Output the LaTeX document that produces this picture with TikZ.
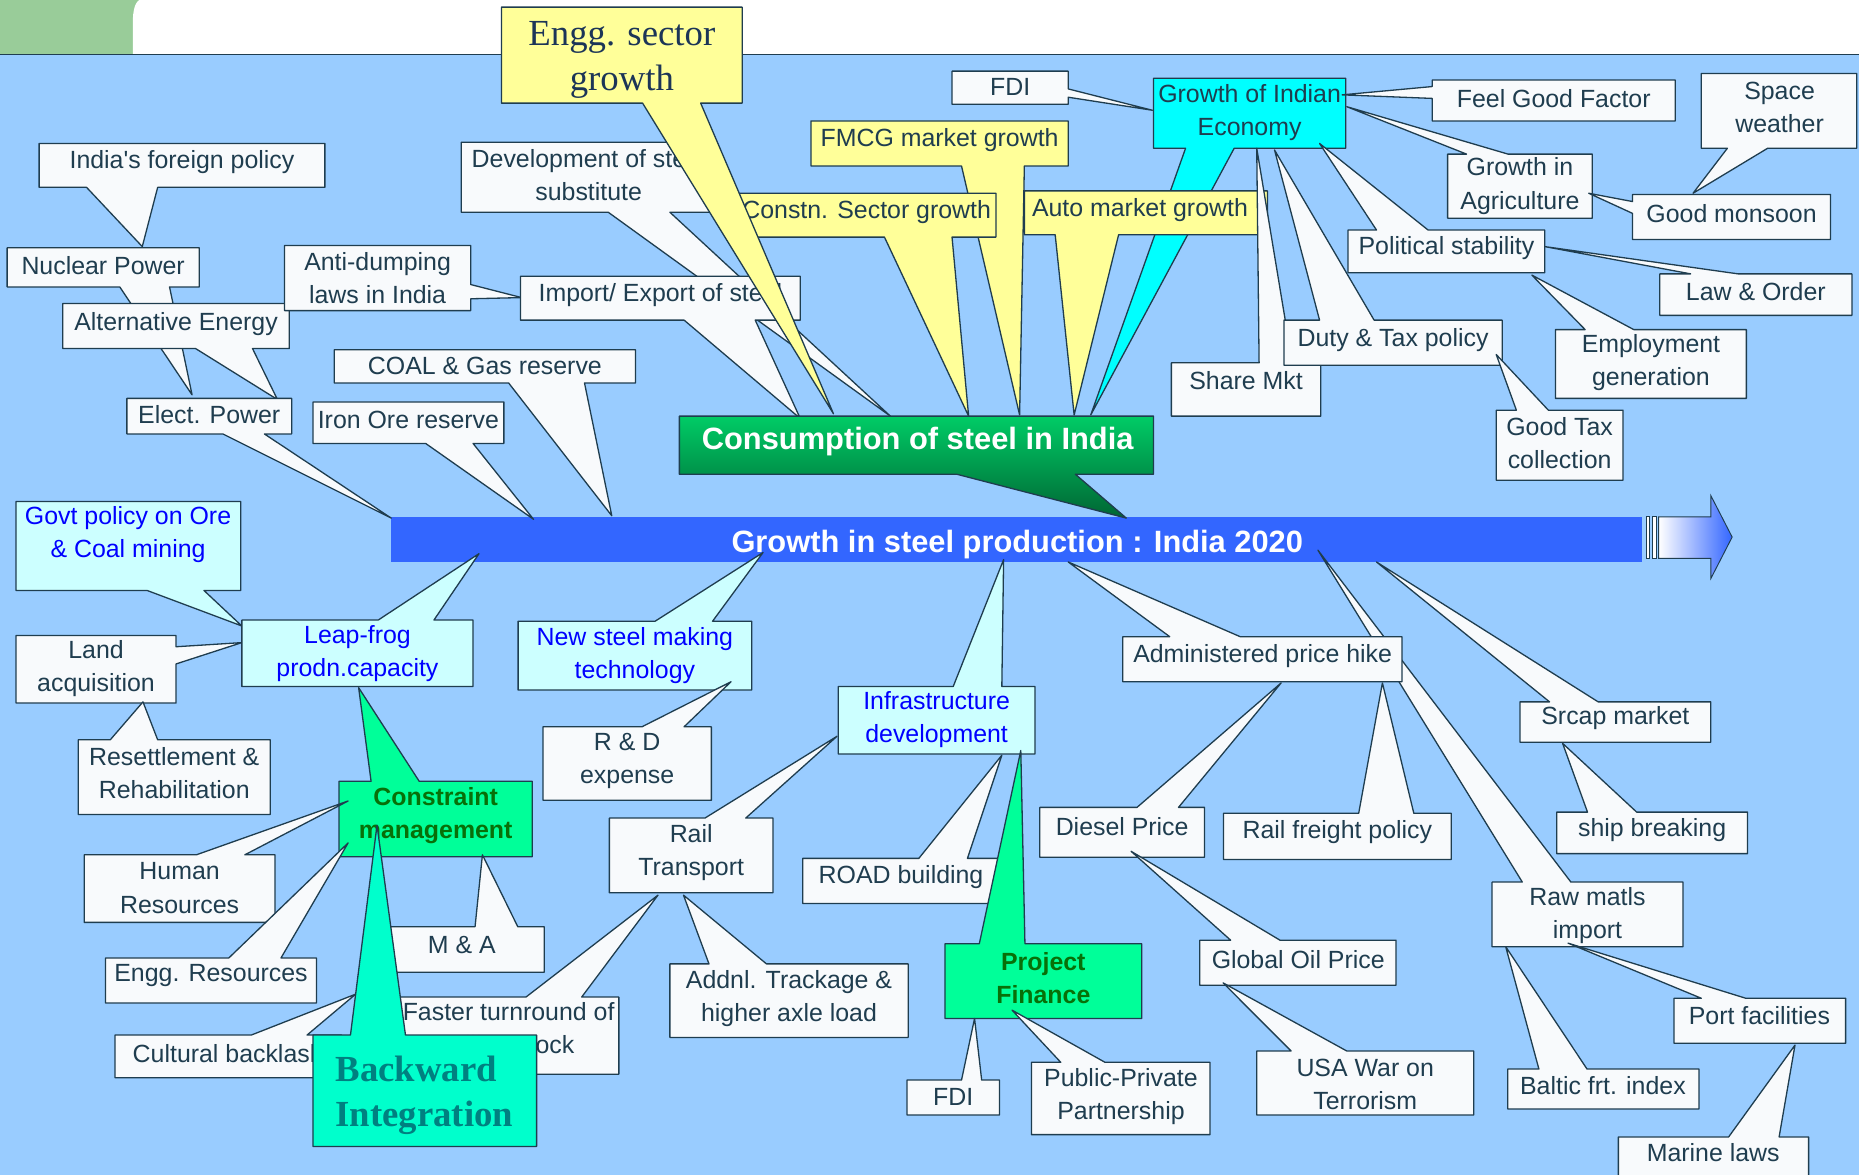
\documentclass[tikz,border=0pt]{standalone}
\usepackage{fontspec}
\setmainfont{Liberation Sans}
\newfontfamily\timesf{Liberation Serif}
\definecolor{bg}{HTML}{99CCFF}
\definecolor{barc}{HTML}{3366FF}
\definecolor{edge}{HTML}{1F3D4F}
\definecolor{txt}{HTML}{1F3D4F}
\definecolor{wbox}{HTML}{F8FAFC}
\definecolor{ybox}{HTML}{FFFF99}
\definecolor{cbox}{HTML}{00FFFF}
\definecolor{lcbox}{HTML}{CCFFFF}
\definecolor{gbox}{HTML}{00FF99}
\definecolor{abox}{HTML}{00FFCC}
\definecolor{bluetxt}{HTML}{0000FF}
\definecolor{greentxt}{HTML}{087008}
\definecolor{tealtxt}{HTML}{008080}
\definecolor{navytxt}{HTML}{1C3557}
\definecolor{tabc}{HTML}{99CC99}
\definecolor{consT}{HTML}{00CC66}
\definecolor{consB}{HTML}{006633}
% callout macros: style, x1, y1, x2, y2, base1, base2, tip
\newcommand\CoBot[8]{\draw[#1] (#2,#3) -- (#4,#3) -- (#4,#5) -- (#7,#5) -- (#8) -- (#6,#5) -- (#2,#5) -- cycle;}
\newcommand\CoTop[8]{\draw[#1] (#2,#3) -- (#6,#3) -- (#8) -- (#7,#3) -- (#4,#3) -- (#4,#5) -- (#2,#5) -- cycle;}
\newcommand\CoRt[8]{\draw[#1] (#2,#3) -- (#4,#3) -- (#4,#6) -- (#8) -- (#4,#7) -- (#4,#5) -- (#2,#5) -- cycle;}
\newcommand\CoLf[8]{\draw[#1] (#2,#3) -- (#4,#3) -- (#4,#5) -- (#2,#5) -- (#2,#7) -- (#8) -- (#2,#6) -- cycle;}
\tikzset{
 base/.style={draw=edge, line width=1.1pt, line join=round},
 wb/.style={base, fill=wbox},
 yb/.style={base, fill=ybox},
 cyb/.style={base, fill=cbox},
 lcb/.style={base, fill=lcbox},
 gb/.style={base, fill=gbox},
 ab/.style={base, fill=abox},
 lab/.style={text=txt, font=\fontsize{21}{28}\selectfont, align=center, inner sep=0pt},
 blab/.style={lab, text=bluetxt},
 glab/.style={lab, text=greentxt, font=\fontsize{21}{28}\selectfont\bfseries},
 wlab/.style={inner sep=0pt, text=white, font=\fontsize{26}{30}\selectfont\bfseries},
 englab/.style={inner sep=0pt, align=center, text=navytxt, font=\fontsize{31}{38}\selectfont\timesf},
 bilab/.style={inner sep=0pt, align=left, text=tealtxt, font=\fontsize{31}{38}\selectfont\timesf\bfseries},
}
\begin{document}
\begin{tikzpicture}[x=1pt,y=-1pt]
\useasboundingbox (0,0) rectangle (1568,991);
% background
\fill[white] (0,0) rectangle (1568,991);
\fill[tabc] (0,0) rectangle (130,46);
\fill[white] (112,46) -- (112,20) .. controls (112,8) and (114,0) .. (120,-1) -- (1568,-1) -- (1568,46) -- cycle;
\fill[bg] (0,46) rectangle (1568,991);
\draw[edge, line width=1.5pt] (0,46) -- (1568,46);
% main bar
\fill[barc] (330,436) rectangle (1385,474);
\node[wlab] (bar) at (858,459) {Growth in steel production : India 2020};
\draw[edge, line width=0.8pt, fill=white] (1388.4,436) rectangle (1391.4,471);
\draw[edge, line width=0.8pt, fill=white] (1393.5,436) rectangle (1397,471);
\draw[edge, line width=0.8pt, left color=white, right color=barc] (1399,436) -- (1443,436) -- (1443,418) -- (1461,453) -- (1443,488) -- (1443,471) -- (1399,471) -- cycle;
% top-left group
\CoBot{wb}{33}{121}{274}{158}{73}{133}{120,208}
\node[lab] (ifp) at (153.5,137) {India\textquotesingle s foreign policy};
\CoBot{wb}{6}{209}{168}{242}{101}{143}{162,333}
\node[lab] (nuc) at (87,224) {Nuclear Power};
\CoBot{wb}{53}{256}{244}{294}{165}{213}{234,337}
\node[lab] (alt) at (148.5,273) {Alternative Energy};
\CoBot{wb}{107}{336}{246}{366}{188}{223}{330,437}
\node[lab] (elp) at (176.5,350) {Elect. Power};
\CoRt{wb}{240}{207}{397}{262}{240}{252}{440,251}
\node[lab] (adl) at (318.5,234.5) {Anti-dumping\\laws in India};
\CoBot{wb}{389}{120}{604}{179}{513}{565}{751,351}
\node[lab] (dev) at (496.5,148) {Development of steel\\substitute};
\CoBot{wb}{439}{233}{675}{270}{577}{637}{675,353}
\node[lab] (imp) at (557,249) {Import/ Export of steel};
\CoBot{wb}{282}{295}{536}{323}{429}{493}{516,435}
\node[lab] (coal) at (409,309) {COAL \& Gas reserve};
\CoBot{wb}{264}{339}{425}{374}{359}{399}{450,438}
\node[lab] (iron) at (344.5,354) {Iron Ore reserve};
% yellow group
\CoBot{yb}{684}{102}{901}{140}{811}{864}{860,350}
\node[lab] (fmcg) at (792.5,118) {FMCG market growth};
\CoBot{yb}{622}{163}{840}{200}{746}{803}{817,351}
\node[lab] (cons) at (731,179) {Constn. Sector growth};
\CoBot{cyb}{973}{66}{1135}{125}{1000}{1041}{920,350}
\node[lab] (gie) at (1054,95) {Growth of Indian\\Economy};
\CoBot{yb}{864}{161}{1069}{198}{890}{943.5}{906,350}
\node[lab] (auto) at (961.5,177) {Auto market growth};
\CoBot{yb}{423}{6}{626}{87}{542}{591}{703,349}
\node[englab] (engg) at (524.5,50.5) {Engg. sector\\growth};
% consumption
\draw[base, top color=consT, bottom color=consB] (573,351) -- (973,351) -- (973,400) -- (907,400) -- (950,437) -- (807,400) -- (573,400) -- cycle;
\node[wlab] (consum) at (774,372) {Consumption of steel in India};
% economy satellites
\CoRt{wb}{803}{60}{901}{88}{75}{82}{972,93}
\node[lab] (fdia) at (852,73) {FDI};
\CoLf{wb}{1208}{67.5}{1413}{102}{73}{83}{1132,80}
\node[lab] (fgf) at (1310.5,83) {Feel Good Factor};
\CoTop{wb}{1221}{130}{1343}{184}{1237}{1272}{1136,90}
\node[lab] (agr) at (1282,157) {Growth in\\Agriculture};
\CoBot{wb}{1435}{62}{1566}{125}{1457}{1491}{1428,163}
\node[lab] (spw) at (1501,90.5) {Space\\weather};
\CoLf{wb}{1377}{164}{1544}{202}{170}{180}{1340,163}
\node[lab] (gm) at (1460.5,180) {Good monsoon};
\CoTop{wb}{988}{306}{1114}{351}{1062}{1090}{1060,125}
\node[lab] (share) at (1051,321) {Share Mkt};
\CoTop{wb}{1083}{270}{1267}{308}{1113}{1159}{1075,126.5}
\node[lab] (duty) at (1175,287) {Duty \& Tax policy};
\CoTop{wb}{1137}{194}{1303}{230}{1161}{1204.5}{1113,121}
\node[lab] (pol) at (1220,209) {Political stability};
\CoTop{wb}{1400}{231}{1562}{266}{1426}{1466}{1303,208}
\node[lab] (lo) at (1481,246) {Law \& Order};
\CoTop{wb}{1312}{278}{1473}{336}{1337}{1378}{1292,232}
\node[lab] (emp) at (1392.5,306) {Employment\\generation};
\CoTop{wb}{1262}{346}{1369}{405}{1279}{1306}{1262,299}
\node[lab] (gtc) at (1315.5,374) {Good Tax\\collection};
% lower-left group
\CoBot{lcb}{13.5}{423}{203}{498}{124}{172}{204,528}
\node[blab] (govt) at (108,451) {Govt policy on Ore\\\& Coal mining};
\CoRt{wb}{13.5}{536}{148.5}{593}{545.5}{560}{204,542}
\node[lab] (land) at (81,564) {Land\\acquisition};
\CoTop{wb}{66}{624}{228}{687}{93}{133}{120.6,592}
\node[lab] (res) at (147,652) {Resettlement \&\\Rehabilitation};
\CoTop{lcb}{204}{523}{399}{579}{319}{366}{404,467}
\node[blab] (leap) at (301.5,551) {Leap-frog\\prodn.capacity};
\CoTop{gb}{286}{659}{449}{722.6}{313}{353.6}{302.5,580}
\node[glab] (cm) at (367.5,688) {Constraint\\management};
\CoTop{wb}{71}{721}{232}{778}{165.6}{206.5}{293.6,675.6}
\node[lab] (hr) at (151.5,749) {Human\\Resources};
\CoTop{wb}{89}{808}{267}{846}{193}{237}{293.6,711}
\node[lab] (er) at (178,823) {Engg. Resources};
\CoTop{wb}{320}{781.6}{459}{820}{400.7}{436.7}{406.9,721}
\node[lab] (ma) at (389.5,797) {M \& A};
\CoTop{wb}{97}{873}{288}{909}{212}{259}{300,838.5}
\node[lab] (cbl) at (192.5,889) {Cultural backlash};
\CoTop{wb}{336}{841}{522}{906}{443.6}{490.6}{555,755}
\node[lab] (ft) at (429,869) {Faster turnround of\\rolling stock};
\CoTop{ab}{264}{873}{452.6}{967}{295.6}{342}{318,696}
\node[bilab] (bi) at (358,924) {Backward\\Integration};
% middle group
\CoTop{lcb}{437}{524}{634}{582}{552.5}{601}{643.6,466}
\node[blab] (nst) at (535.5,553) {New steel making\\technology};
\CoTop{wb}{458}{613}{600}{675}{541.5}{577}{616.6,575}
\node[lab] (rd) at (529,642) {R \& D\\expense};
\CoTop{lcb}{707}{579}{873}{636}{804}{845}{846.5,472}
\node[blab] (inf) at (790,607) {Infrastructure\\development};
\CoTop{wb}{514}{690}{652}{753}{594.6}{629}{706,621}
\node[lab] (rail) at (583,719) {Rail\\Transport};
\CoTop{wb}{565}{813}{766}{875}{598}{646.5}{576.5,755}
\node[lab] (addnl) at (665.5,842) {Addnl. Trackage \&\\higher axle load};
\CoTop{wb}{677}{724}{843}{762}{775}{816}{845,637}
\node[lab] (road) at (760,740) {ROAD building};
\CoTop{gb}{797}{796}{963}{859}{826}{864.5}{861,633}
\node[glab] (pf) at (880,825) {Project\\Finance};
\CoTop{wb}{765}{911}{843}{940.5}{811}{828}{822,859}
\node[lab] (fdib) at (804,925) {FDI};
\CoTop{wb}{870}{896}{1020.6}{957}{894.7}{932}{853.6,852}
\node[lab] (ppp) at (945.5,925) {Public-Private\\Partnership};
% lower-right group
\CoTop{wb}{1258.5}{744}{1419.6}{798.5}{1284}{1325}{1111.6,464}
\node[lab] (raw) at (1339,772) {Raw matls\\import};
\CoTop{wb}{947}{537}{1182.5}{575}{986.6}{1046}{901,474}
\node[lab] (adm) at (1065,553) {Administered price hike};
\CoTop{wb}{877}{681}{1016}{723}{959}{994}{1080.6,576}
\node[lab] (dsl) at (946.5,697) {Diesel Price};
\CoTop{wb}{1032}{686}{1224}{725}{1146}{1192.5}{1166,576}
\node[lab] (rfp) at (1128,702) {Rail freight policy};
\CoTop{wb}{1012}{793}{1177.5}{831}{1038}{1079.6}{954,718}
\node[lab] (gop) at (1095,809) {Global Oil Price};
\CoTop{wb}{1060}{886.5}{1243}{940.5}{1089}{1136}{1031.6,829}
\node[lab] (usa) at (1151.5,915) {USA War on\\Terrorism};
\CoTop{wb}{1282}{592}{1443}{626}{1307}{1348}{1161,474}
\node[lab] (scr) at (1362.5,606) {Srcap market};
\CoTop{wb}{1313}{685}{1474}{720}{1339}{1380.5}{1318,627}
\node[lab] (ship) at (1393.5,700) {ship breaking};
\CoTop{wb}{1412}{842}{1556.7}{880}{1435}{1472.5}{1322.6,795.5}
\node[lab] (port) at (1484,857) {Port facilities};
\CoTop{wb}{1271.7}{901.7}{1433}{935.4}{1298}{1338.6}{1270,798.5}
\node[lab] (baltic) at (1352,916) {Baltic frt. index};
\CoTop{wb}{1365}{959}{1525.5}{1000}{1458}{1500.6}{1514,881.5}
\node[lab] (marine) at (1445,972) {Marine laws};
\end{tikzpicture}
\end{document}
